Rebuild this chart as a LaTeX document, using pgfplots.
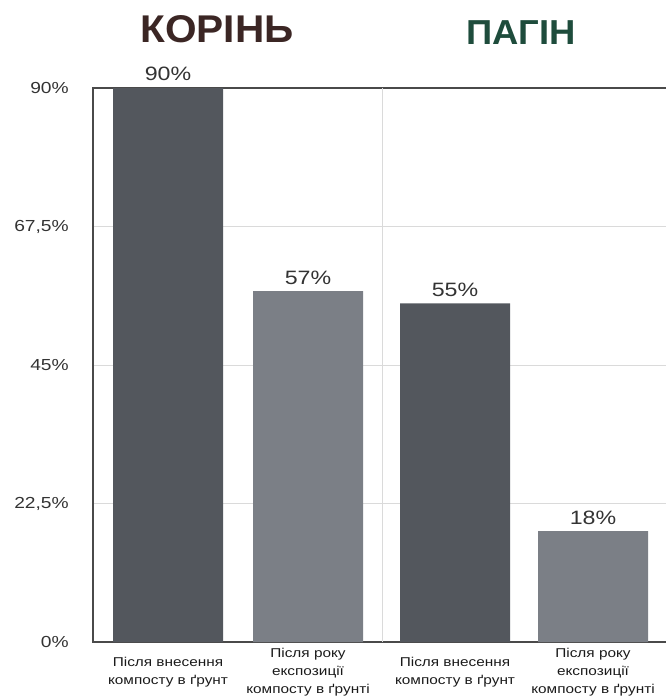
\documentclass[border=0pt]{standalone}
\usepackage{fontspec}
\setmainfont{Liberation Sans}
\newfontfamily\widefont{Liberation Sans}[FakeStretch=1.2]
\newfontfamily\titlefont{Liberation Sans}[FakeStretch=1.05]
\usepackage{pgfplots}
\pgfplotsset{compat=1.18}
\definecolor{bardark}{HTML}{53575D}
\definecolor{barlight}{HTML}{7B7F86}
\definecolor{axisline}{HTML}{4A4A4A}
\definecolor{gridc}{HTML}{DADADA}
\definecolor{txt}{HTML}{333333}
\definecolor{lbl}{HTML}{1A1A1A}
\definecolor{koren}{HTML}{3B2624}
\definecolor{pagin}{HTML}{1E4C3C}
\begin{document}
\begin{tikzpicture}[x=0.75pt,y=0.75pt]
\path[use as bounding box] (0,0) rectangle (665,699);
\begin{axis}[
  at={(69.75pt,42.75pt)}, anchor=south west,
  scale only axis,
  width=440.25pt, height=415.5pt,
  xmin=93, xmax=680, ymin=0, ymax=90,
  clip=false,
  /pgf/number format/assume math mode=true,
  axis line style={draw=axisline, line width=1.1pt},
  major tick length=0pt,
  ytick={0,22.5,45,67.5,90},
  yticklabels={{0\%},{22,5\%},{45\%},{67,5\%},{90\%}},
  yticklabel style={anchor=east, inner sep=0pt, xshift=-18pt, text=txt, font=\widefont\fontsize{12pt}{14pt}\selectfont},
  ymajorgrids, grid style={draw=gridc, line width=0.75pt},
  xtick={168,308,455,593},
  xticklabels={{Після внесення\\компосту в ґрунт},{Після року\\експозиції\\компосту в ґрунті},{Після внесення\\компосту в ґрунт},{Після року\\експозиції\\компосту в ґрунті}},
  xticklabel style={align=center, anchor=center, inner sep=0pt, yshift=-22.5pt, text=lbl, font=\widefont\fontsize{9.6pt}{13.5pt}\selectfont},
  extra x ticks={382},
  extra x tick labels={},
  extra x tick style={grid=major, major grid style={draw=gridc, line width=0.75pt}},
  ybar, bar width=110, bar shift=0pt,
  nodes near coords={\pgfmathprintnumber{\pgfplotspointmeta}\%},
  nodes near coords style={anchor=south, inner sep=0pt, yshift=5pt, text=txt, font=\widefont\fontsize{14.5pt}{16pt}\selectfont},
]
\addplot[fill=bardark, draw=none] coordinates {(168,90) (455,55)};
\addplot[fill=barlight, draw=none] coordinates {(308,57) (593,18)};
\end{axis}
\node[text=koren, font=\titlefont\bfseries\fontsize{29pt}{32pt}\selectfont] at (217,670) {КОРІНЬ};
\node[text=pagin, font=\titlefont\bfseries\fontsize{26pt}{30pt}\selectfont] at (521,666.5) {ПАГІН};
\end{tikzpicture}
\end{document}
